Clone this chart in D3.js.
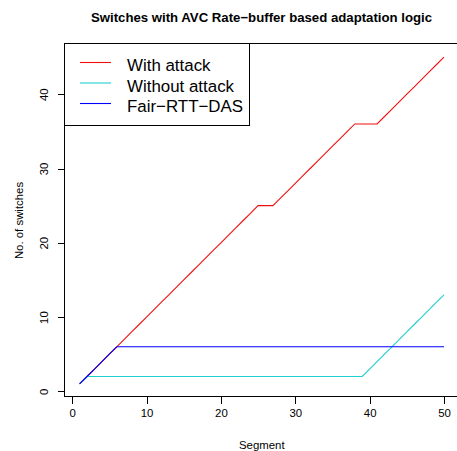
<!DOCTYPE html>
<html>
<head>
<meta charset="utf-8">
<script src="https://cdn.jsdelivr.net/npm/d3@7"></script>
<style>
  html, body { margin: 0; padding: 0; background: #fff; }
  svg { display: block; font-family: "Liberation Sans", Arial, Helvetica, sans-serif; }
</style>
</head>
<body>
<svg id="chart" width="457" height="451"></svg>
<script>
// Segment index 1..50
const segments = d3.range(1, 51);

// Cumulative number of quality switches per segment
const withAttack = [
  1, 2, 3, 4, 5, 6, 7, 8, 9, 10,
  11, 12, 13, 14, 15, 16, 17, 18, 19, 20,
  21, 22, 23, 24, 25, 25, 25, 26, 27, 28,
  29, 30, 31, 32, 33, 34, 35, 36, 36, 36,
  36, 37, 38, 39, 40, 41, 42, 43, 44, 45
];
const withoutAttack = [
  1, 2, 2, 2, 2, 2, 2, 2, 2, 2,
  2, 2, 2, 2, 2, 2, 2, 2, 2, 2,
  2, 2, 2, 2, 2, 2, 2, 2, 2, 2,
  2, 2, 2, 2, 2, 2, 2, 2, 2, 3,
  4, 5, 6, 7, 8, 9, 10, 11, 12, 13
];
const fairRttDas = [
  1, 2, 3, 4, 5, 6, 6, 6, 6, 6,
  6, 6, 6, 6, 6, 6, 6, 6, 6, 6,
  6, 6, 6, 6, 6, 6, 6, 6, 6, 6,
  6, 6, 6, 6, 6, 6, 6, 6, 6, 6,
  6, 6, 6, 6, 6, 6, 6, 6, 6, 6
];

const seriesNames = ["With attack", "Without attack", "Fair\u2212RTT\u2212DAS"];
const seriesColors = ["#f01010", "#1fcfcf", "#0000ff"];
const xTicks = [0, 10, 20, 30, 40, 50];
const yTicks = [0, 10, 20, 30, 40];

const titleText = "Switches with AVC Rate\u2212buffer based adaptation logic";
const xLabel = "Segment";
const yLabel = "No. of switches";

const svg = d3.select("#chart");

// Plot region with 4% padding around the data range on each axis
const xExt = d3.extent(segments);
const yAll = withAttack.concat(withoutAttack, fairRttDas);
const yExt = d3.extent(yAll);
const xPad = (xExt[1] - xExt[0]) * 0.04;
const yPad = (yExt[1] - yExt[0]) * 0.04;

const plot = { left: 65, top: 44, bottom: 397, right: 458.6 };

const x = d3.scaleLinear()
  .domain([xExt[0] - xPad, xExt[1] + xPad])
  .range([plot.left, plot.right]);
const y = d3.scaleLinear()
  .domain([yExt[0] - yPad, yExt[1] + yPad])
  .range([plot.bottom, plot.top]);

// Series lines
const line = d3.line()
  .x((d, i) => x(segments[i]))
  .y(d => y(d));

[withAttack, withoutAttack, fairRttDas].forEach((vals, k) => {
  svg.append("path")
    .datum(vals)
    .attr("fill", "none")
    .attr("stroke", seriesColors[k])
    .attr("stroke-width", 1.1)
    .attr("d", line);
});

// Frame around plot region
svg.append("rect")
  .attr("x", plot.left - 0.5)
  .attr("y", plot.top - 0.5)
  .attr("width", plot.right - plot.left)
  .attr("height", plot.bottom - plot.top)
  .attr("fill", "none")
  .attr("stroke", "#000")
  .attr("stroke-width", 1)
  .attr("shape-rendering", "crispEdges");

const tickFont = g => g.selectAll("text")
  .attr("fill", "#000")
  .style("font-size", "11.4px")
  .style("font-family", "Liberation Sans, Arial, sans-serif");

// X axis
const xAxis = svg.append("g")
  .attr("transform", `translate(0,${plot.bottom - 0.5})`)
  .call(d3.axisBottom(x).tickValues(xTicks).tickSize(7).tickPadding(5).tickFormat(d3.format("d")));
xAxis.select(".domain").remove();
xAxis.selectAll("line").attr("stroke", "#000").attr("shape-rendering", "crispEdges");
xAxis.call(tickFont);
xAxis.append("line")
  .attr("x1", x(xTicks[0])).attr("x2", x(xTicks[xTicks.length - 1]))
  .attr("y1", 0).attr("y2", 0)
  .attr("stroke", "#000")
  .attr("shape-rendering", "crispEdges");

// Y axis with rotated labels
const yAxis = svg.append("g")
  .attr("transform", `translate(${plot.left - 0.5},0)`)
  .call(d3.axisLeft(y).tickValues(yTicks).tickSize(7).tickFormat(d3.format("d")));
yAxis.select(".domain").remove();
yAxis.selectAll("line").attr("stroke", "#000").attr("shape-rendering", "crispEdges");
yAxis.call(tickFont);
yAxis.selectAll(".tick text")
  .attr("x", null)
  .attr("dy", null)
  .attr("text-anchor", "middle")
  .attr("transform", "translate(-17,0) rotate(-90)")
  .attr("y", 0);
yAxis.append("line")
  .attr("x1", 0).attr("x2", 0)
  .attr("y1", y(yTicks[0])).attr("y2", y(yTicks[yTicks.length - 1]))
  .attr("stroke", "#000")
  .attr("shape-rendering", "crispEdges");

// Title and axis titles
svg.append("text")
  .attr("x", 261.5)
  .attr("y", 21.5)
  .attr("text-anchor", "middle")
  .style("font-weight", "bold")
  .style("font-size", "13.2px")
  .text(titleText);

svg.append("text")
  .attr("x", (plot.left + plot.right) / 2)
  .attr("y", 449)
  .attr("text-anchor", "middle")
  .style("font-size", "11.4px")
  .text(xLabel);

svg.append("text")
  .attr("transform", `translate(23,${(plot.top + plot.bottom) / 2}) rotate(-90)`)
  .attr("text-anchor", "middle")
  .style("font-size", "11.4px")
  .text(yLabel);

// Legend
const legend = svg.append("g");
legend.append("rect")
  .attr("x", 64.5).attr("y", 43.5)
  .attr("width", 185).attr("height", 82)
  .attr("fill", "#fff")
  .attr("stroke", "#000")
  .attr("shape-rendering", "crispEdges");

const rowBase = [71, 91.5, 112];
seriesNames.forEach((name, k) => {
  legend.append("line")
    .attr("x1", 80).attr("x2", 111)
    .attr("y1", rowBase[k] - 8.5).attr("y2", rowBase[k] - 8.5)
    .attr("stroke", seriesColors[k])
    .attr("stroke-width", 1.1);
  legend.append("text")
    .attr("x", 127)
    .attr("y", rowBase[k])
    .style("font-size", "16.9px")
    .text(name);
});
</script>
</body>
</html>
